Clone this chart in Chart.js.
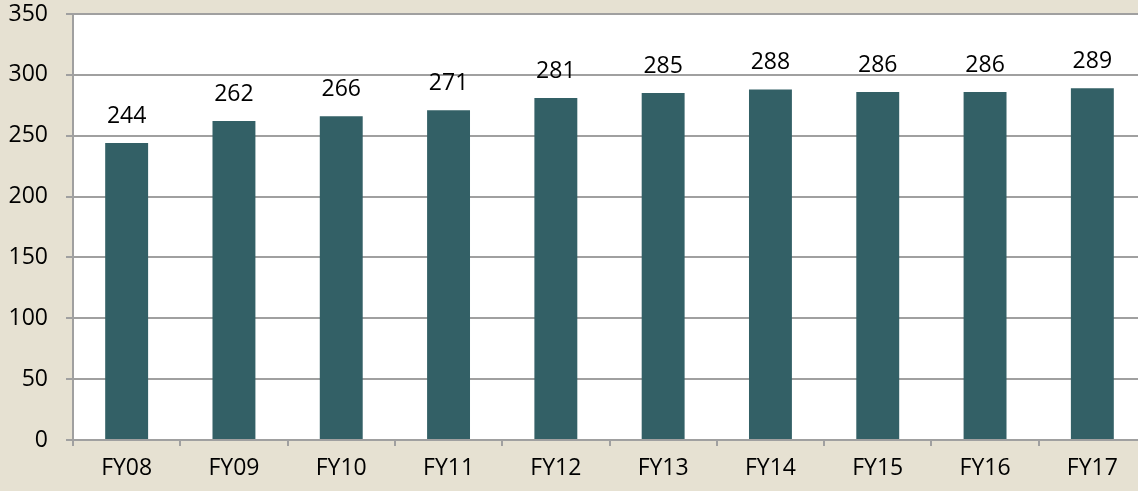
<!DOCTYPE html>
<html>
<head>
<meta charset="utf-8">
<script src="https://cdn.jsdelivr.net/npm/chart.js@4"></script>
<style>
  html, body { margin: 0; padding: 0; background: #e6e1d2; overflow: hidden; }
  #wrap { width: 1146px; height: 491px; position: relative; }
</style>
</head>
<body>
<div id="wrap"><canvas id="chart"></canvas></div>
<script>
// chart data
const years = ['FY08', 'FY09', 'FY10', 'FY11', 'FY12', 'FY13', 'FY14', 'FY15', 'FY16', 'FY17'];
const values = [244, 262, 266, 271, 281, 285, 288, 286, 286, 289];
const yTicks = [0, 50, 100, 150, 200, 250, 300, 350];

// white plot area + value labels above bars
const plotBg = {
    id: 'plotBg',
    beforeDraw(chart) {
        const a = chart.chartArea;
        const ctx = chart.ctx;
        ctx.save();
        ctx.fillStyle = '#ffffff';
        ctx.fillRect(a.left, a.top, a.right - a.left, a.bottom - a.top);
        ctx.restore();
    }
};

const valueLabels = {
    id: 'valueLabels',
    afterDatasetsDraw(chart) {
        const ctx = chart.ctx;
        const meta = chart.getDatasetMeta(0);
        ctx.save();
        ctx.font = '23px "Open Sans"';
        ctx.fillStyle = '#000000';
        ctx.textAlign = 'center';
        ctx.textBaseline = 'alphabetic';
        meta.data.forEach((bar, i) => {
            ctx.fillText(values[i], bar.x, bar.y - 20);
        });
        ctx.restore();
    }
};

const ctx = document.getElementById('chart').getContext('2d');
new Chart(ctx, {
    type: 'bar',
    data: {
        labels: years,
        datasets: [{
            data: values,
            backgroundColor: '#336066',
            borderWidth: 0,
            barPercentage: 0.4,
            categoryPercentage: 1.0
        }]
    },
    options: {
        responsive: true,
        maintainAspectRatio: false,
        animation: false,
        layout: { padding: 0 },
        plugins: {
            legend: { display: false },
            tooltip: { enabled: false }
        },
        scales: {
            x: {
                offset: true,
                grid: {
                    offset: true,
                    drawOnChartArea: false,
                    drawTicks: true,
                    tickLength: 6,
                    color: '#a0a0a0',
                    lineWidth: 2
                },
                border: { color: '#a0a0a0', width: 2 },
                ticks: {
                    color: '#000000',
                    font: { family: 'Open Sans', size: 23 },
                    padding: 9
                },
                afterFit(scale) { scale.height = 51; }
            },
            y: {
                min: 0,
                max: 350,
                afterBuildTicks(scale) {
                    scale.ticks = yTicks.map(v => ({ value: v }));
                },
                grid: {
                    color: '#a0a0a0',
                    lineWidth: 2,
                    tickLength: 7
                },
                border: { color: '#a0a0a0', width: 2 },
                ticks: {
                    color: '#000000',
                    font: { family: 'Open Sans', size: 23 },
                    padding: 18
                },
                afterFit(scale) {
                    scale.width = 73;
                    scale.paddingTop = 14;
                    scale.paddingBottom = 0;
                }
            }
        }
    },
    plugins: [plotBg, valueLabels]
});
</script>
</body>
</html>
